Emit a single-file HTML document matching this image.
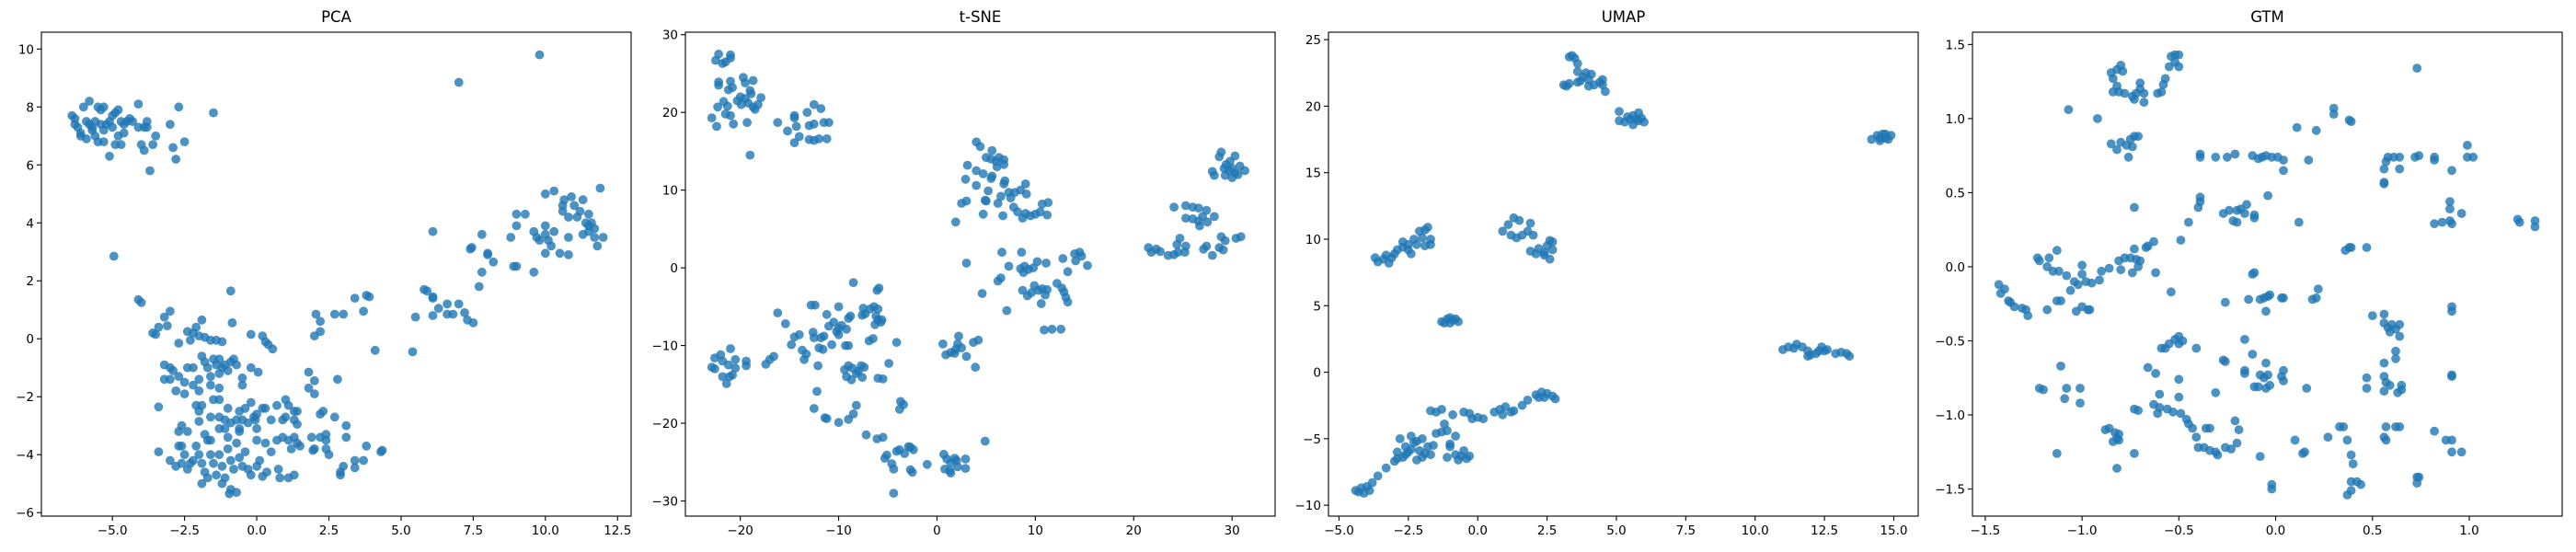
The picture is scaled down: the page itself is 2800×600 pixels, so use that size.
<!DOCTYPE html>
<html><head><meta charset="utf-8"><style>
html,body{margin:0;padding:0;background:#fff;}
svg{display:block;font-family:"DejaVu Sans","Liberation Sans",sans-serif;}
</style></head><body>
<svg id="fig" width="2800" height="600" viewBox="0 0 2800 600" xmlns="http://www.w3.org/2000/svg"></svg>
<script>
const panelTitles=["PCA","t-SNE","UMAP","GTM"];
const pcaXTicks=[-5,-2.5,0,2.5,5,7.5,10,12.5];
const pcaYTicks=[-6,-4,-2,0,2,4,6,8,10];
const tsneXTicks=[-20,-10,0,10,20,30];
const tsneYTicks=[-30,-20,-10,0,10,20,30];
const umapXTicks=[-5,-2.5,0,2.5,5,7.5,10,12.5,15];
const umapYTicks=[-10,-5,0,5,10,15,20,25];
const gtmXTicks=[-1.5,-1,-0.5,0,0.5,1];
const gtmYTicks=[-1.5,-1,-0.5,0,0.5,1,1.5];
const pcaPoints=[[-6.4,7.7],[-6.3,7.6],[-6.2,7.3],[-6.1,7.0],[-6.0,8.0],[-5.8,8.2],[-5.9,7.5],[-5.7,7.3],[-5.6,7.0],[-5.5,8.0],[-5.4,7.9],[-5.3,8.0],[-5.5,6.8],[-5.3,6.8],[-5.2,7.4],[-5.0,7.3],[-5.0,7.7],[-4.9,7.8],[-4.8,7.9],[-4.7,7.5],[-4.6,7.1],[-4.5,7.5],[-4.4,7.6],[-4.3,7.5],[-5.1,6.3],[-4.9,6.7],[-4.7,6.7],[-4.8,7.0],[-6.1,7.1],[-5.9,6.9],[-5.7,7.2],[-5.8,7.4],[-5.4,7.4],[-5.6,7.5],[-6.3,7.4],[-4.1,8.1],[-4.1,7.3],[-3.9,7.3],[-3.8,7.5],[-3.8,7.3],[-4.0,6.7],[-3.9,6.5],[-3.5,7.0],[-3.6,6.7],[-3.7,5.8],[-3.0,7.4],[-2.9,6.6],[-2.5,6.8],[-2.8,6.2],[-2.7,8.0],[-1.5,7.8],[-5.3,7.2],[-5.1,7.5],[-4.6,7.4],
[7.0,8.85],[9.8,9.8],[-4.95,2.85],[-4.1,1.35],[-4.0,1.25],
[10.0,5.0],[10.3,5.1],[10.6,4.6],[10.6,4.4],[10.65,4.8],[10.9,4.9],[11.0,4.6],[11.2,4.4],[11.3,4.8],[11.1,4.2],[10.8,4.2],[11.5,4.3],[11.6,4.0],[11.5,3.7],[11.7,3.8],[11.3,3.6],[11.5,3.9],[11.4,4.0],[11.7,3.5],[11.8,3.2],[11.9,5.2],[12.0,3.5],[10.3,3.7],[10.1,3.4],[10.0,3.9],[9.8,3.4],[9.6,3.7],[9.7,3.5],[10.0,3.6],[10.2,3.2],[10.0,2.95],[10.5,2.95],[10.8,2.9],[10.8,3.5],[9.0,4.3],[9.3,4.3],[9.0,3.9],[8.8,3.5],[8.9,2.5],[9.0,2.5],[9.6,2.3],[7.8,3.6],[7.4,3.1],[7.45,3.15],[8.0,2.95],[8.0,2.9],[8.2,2.65],[7.8,2.3],[7.7,1.8],[6.1,3.7],[5.8,1.7],[5.9,1.65],[6.1,1.45],[6.1,1.4],[7.0,1.2],[6.6,1.2],[6.3,1.05],[6.6,0.85],[6.8,0.85],[7.2,0.9],[7.3,0.65],[7.5,0.55],[6.1,0.8],[5.5,0.75],[5.4,-0.45],[4.1,-0.4],[3.8,1.5],[3.9,1.45],[3.4,1.4],[3.7,0.95],[3.0,0.85],[2.7,0.85],[2.05,0.85],[2.2,0.6],[2.2,0.25],[2.0,0.1],[2.8,-1.4],
[-3.2,0.75],[-3.0,0.95],[-3.1,0.45],[-3.4,0.4],[-3.6,0.2],[-3.5,0.15],[-2.4,0.25],[-2.2,0.2],[-2.1,0.4],[-1.9,0.65],[-2.0,0.1],[-1.8,0.05],[-1.6,-0.05],[-1.4,-0.05],[-1.2,-0.1],[-2.7,-0.15],[-2.3,-0.05],[-0.9,1.65],[-0.85,0.55],[-0.2,0.15],[0.2,0.1],[0.3,-0.1],[0.4,-0.2],[0.55,-0.35],[-0.2,-1.0],[0.05,-1.15],[-0.5,-1.35],[-0.5,-1.6],[1.8,-1.15],[2.0,-1.45],[1.8,-1.7],[2.0,-1.9],
[-3.2,-0.9],[-3.0,-1.0],[-2.9,-1.1],[-3.2,-1.4],[-3.0,-1.4],[-2.7,-1.3],[-2.5,-1.5],[-2.4,-1.0],[-2.2,-1.0],[-2.2,-1.6],[-2.0,-1.4],[-2.0,-1.8],[-1.9,-0.6],[-1.8,-0.8],[-1.7,-1.0],[-1.6,-1.3],[-1.5,-0.7],[-1.4,-0.9],[-1.3,-0.7],[-1.3,-1.2],[-1.2,-1.0],[-1.1,-0.9],[-1.0,-1.1],[-0.9,-0.8],[-0.8,-0.7],[-0.7,-0.9],[-1.3,-1.7],[-1.6,-1.6],[-2.8,-1.8],[-2.5,-1.9],[-1.5,-2.1],[-1.3,-2.1],[-1.0,-2.4],[-0.6,-2.5],[-0.2,-2.2],[0.2,-2.4],[0.3,-2.4],[0.7,-2.3],[1.0,-2.1],[1.1,-2.3],[1.3,-2.5],[1.4,-2.5],[2.2,-2.6],[2.3,-2.5],[2.7,-2.7],[-1.9,-2.3],[-2.1,-2.3],[-2.0,-2.5],[-1.6,-2.7],[-1.3,-2.7],[-1.1,-2.8],[-0.9,-2.9],[-0.7,-2.8],[-0.5,-2.8],[-0.3,-2.9],[-0.1,-2.7],[-0.05,-2.8],[-0.6,-3.1],[-0.6,-3.2],[0.5,-2.8],[0.9,-2.8],[1.0,-2.7],[1.3,-2.8],[1.4,-2.95],[-2.0,-2.85],[-2.6,-3.0],[-2.4,-3.2],[-2.7,-3.2],[-1.8,-3.3],[-1.6,-3.5],[-1.3,-3.1],[-1.0,-3.4],[0.0,-3.5],[0.0,-3.1],[0.3,-3.6],[0.5,-3.9],[0.7,-3.5],[0.9,-3.4],[1.1,-3.5],[1.3,-3.4],[1.4,-3.6],[1.2,-3.8],[1.5,-3.7],[1.9,-3.4],[2.4,-3.3],[2.4,-3.5],[2.2,-3.4],[1.95,-3.85],[2.0,-3.8],[2.4,-3.8],[2.5,-4.0],[3.1,-3.0],[3.1,-3.4],[3.8,-3.7],[4.3,-3.9],[4.35,-3.85],[2.9,-4.6],[2.9,-4.7],[3.0,-4.4],[3.4,-4.2],[3.4,-4.45],[3.7,-4.2],[-3.4,-2.35],[-3.4,-3.9],[-3.0,-4.2],[-2.6,-3.7],[-2.5,-4.0],[-2.6,-4.3],[-2.4,-4.5],[-2.3,-4.3],[-2.1,-3.7],[-2.0,-4.0],[-1.9,-4.3],[-1.8,-4.6],[-1.7,-3.5],[-1.6,-4.0],[-1.5,-4.3],[-1.4,-4.7],[-1.3,-4.0],[-1.2,-4.4],[-1.1,-4.8],[-1.0,-3.8],[-0.9,-4.2],[-0.8,-4.5],[-0.7,-3.6],[-0.6,-4.1],[-0.5,-4.4],[-1.9,-5.0],[-1.7,-4.8],[-1.2,-5.0],[-0.9,-5.2],[-0.95,-5.35],[-0.7,-5.3],[-0.2,-4.7],[0.0,-4.4],[0.2,-4.75],[0.1,-4.2],[0.35,-4.6],[0.75,-4.5],[0.8,-4.8],[1.1,-4.8],[1.3,-4.7],[-0.4,-3.9],[-0.3,-4.5],[-2.2,-4.2],[-2.8,-4.4],[-2.7,-3.7],[-1.1,-3.1],[-0.4,-2.4],[0.0,-2.6]];
const tsnePoints=[[-22.2,27.5],[-22.5,26.7],[-21.5,26.5],[-21.0,27.0],[-21.0,27.4],[-21.8,26.3],[-22.2,23.9],[-22.2,23.5],[-21.0,24.0],[-20.8,23.2],[-21.2,22.9],[-19.7,24.5],[-19.5,23.8],[-18.7,24.1],[-19.0,22.8],[-18.9,22.4],[-19.5,21.8],[-20.0,22.0],[-20.3,21.5],[-19.9,21.0],[-19.2,21.2],[-18.7,20.7],[-18.5,20.4],[-18.2,21.0],[-17.9,21.9],[-21.7,21.4],[-22.3,20.7],[-21.3,20.8],[-21.5,19.8],[-21.0,19.6],[-20.7,18.5],[-22.9,19.3],[-22.4,18.2],[-19.3,18.7],[-19.0,14.5],
[-16.2,18.7],[-15.2,17.6],[-14.5,19.3],[-14.5,19.6],[-14.3,18.2],[-14.0,16.9],[-14.5,16.1],[-13.2,20.0],[-13.0,18.3],[-12.5,18.5],[-12.5,21.0],[-11.8,20.5],[-11.5,18.7],[-11.0,18.7],[-13.0,16.5],[-12.5,16.4],[-12.0,16.6],[-11.2,16.6],
[4.0,16.2],[4.4,15.6],[5.0,14.2],[5.6,15.1],[5.5,14.0],[6.0,13.7],[6.3,14.2],[6.8,13.9],[6.8,13.3],[6.1,13.0],[3.1,13.2],[2.9,11.4],[4.0,12.5],[4.7,12.1],[5.5,11.5],[5.6,11.8],[4.0,10.6],[5.2,9.9],[4.9,8.7],[5.0,8.6],[6.2,8.3],[6.5,9.2],[6.8,10.8],[6.9,11.2],[7.3,9.7],[7.5,9.0],[7.9,9.7],[8.5,10.0],[9.0,10.8],[9.1,9.5],[7.8,7.8],[8.2,7.2],[8.7,6.4],[9.0,7.0],[9.5,6.7],[10.0,6.9],[10.5,7.2],[10.7,8.2],[11.3,8.4],[11.2,6.8],[6.7,6.7],[4.7,6.9],[2.5,8.3],[3.0,8.6],[1.9,5.9],[3.0,0.6],[6.6,2.0],[7.3,0.2],[6.2,-1.7],[6.5,-1.3],[8.6,2.0],[8.5,-0.1],[8.9,0.2],[8.8,-0.6],[9.3,-0.2],[9.8,0.0],[10.2,0.8],[11.1,0.6],[12.8,1.2],[13.3,-0.5],[14.0,1.8],[14.5,2.0],[14.7,1.5],[14.1,0.9],[15.3,0.3],[8.7,-2.9],[9.2,-3.6],[9.6,-3.2],[9.9,-2.3],[10.3,-2.9],[10.7,-2.7],[10.6,-4.6],[11.0,-3.5],[11.2,-2.8],[12.2,-2.0],[12.7,-2.6],[12.9,-3.1],[13.1,-3.8],[13.3,-4.4],[4.6,-3.3],[7.1,-5.5],[10.9,-8.0],[11.7,-7.9],[12.6,-7.9],
[28.9,14.9],[28.7,14.3],[29.4,13.3],[29.8,13.7],[30.3,14.4],[30.8,13.1],[31.3,12.5],[29.3,11.9],[30.0,11.6],[30.3,12.2],[30.6,12.0],[29.7,12.5],[28.0,12.4],[28.2,11.9],[29.2,12.8],[30.0,12.8],
[24.1,7.8],[25.3,8.0],[26.0,7.8],[26.6,7.7],[27.4,7.4],[28.2,6.6],[25.3,6.4],[26.0,6.3],[26.6,6.0],[27.0,6.6],[27.5,5.9],[26.7,5.4],[24.7,3.8],[24.4,3.0],[25.3,2.8],[25.2,2.0],[24.1,1.7],[24.5,2.0],[23.5,1.6],[21.5,2.6],[21.8,2.0],[22.3,2.4],[22.7,2.1],[27.1,2.4],[27.4,2.8],[28.0,1.6],[28.9,4.0],[29.3,3.5],[28.7,2.6],[29.1,2.3],[30.4,3.8],[30.9,4.0],
[-22.6,-11.6],[-22.0,-11.2],[-21.0,-10.4],[-21.8,-12.0],[-21.2,-12.5],[-20.5,-11.8],[-20.5,-12.9],[-22.9,-12.8],[-22.6,-13.0],[-21.8,-14.0],[-21.4,-14.9],[-21.1,-14.0],[-20.8,-13.8],[-19.4,-12.0],[-19.4,-12.6],[-17.4,-12.4],[-17.0,-11.8],[-16.6,-11.4],[-16.2,-5.8],[-15.4,-7.2],[-14.8,-9.9],[-14.5,-8.9],[-14.0,-8.6],[-13.7,-10.6],[-13.5,-11.8],[-13.3,-11.1],[-12.8,-4.8],[-12.4,-4.8],[-12.6,-8.3],[-12.5,-9.0],[-12.0,-10.3],[-11.6,-10.5],[-11.8,-9.0],[-11.5,-8.8],[-11.2,-6.0],[-11.0,-7.5],[-10.5,-7.0],[-10.2,-8.2],[-10.0,-7.8],[-9.7,-7.4],[-9.2,-7.9],[-9.0,-6.5],[-8.8,-6.2],[-10.0,-5.0],[-10.7,-9.9],[-10.0,-8.6],[-9.3,-10.0],[-9.0,-10.0],[-8.5,-1.9],[-7.5,-5.2],[-7.6,-6.1],[-7.3,-5.9],[-6.8,-5.3],[-6.4,-5.0],[-6.0,-5.3],[-6.2,-6.2],[-6.0,-6.7],[-5.6,-6.7],[-5.7,-7.0],[-6.3,-7.3],[-6.1,-2.9],[-5.9,-2.6],[-6.5,-9.1],[-6.9,-9.4],[-4.1,-9.6],[-12.1,-12.6],[-9.4,-13.1],[-9.0,-12.6],[-8.6,-12.9],[-8.2,-13.6],[-7.7,-12.6],[-7.4,-12.8],[-9.2,-14.0],[-8.7,-14.4],[-7.6,-14.1],[-8.0,-13.3],[-6.0,-14.2],[-5.5,-14.3],[-4.9,-12.3],[-12.2,-15.9],[-12.5,-18.1],[-11.4,-19.3],[-11.2,-19.4],[-10.0,-19.9],[-9.0,-19.5],[-8.5,-18.8],[-8.2,-17.7],[-7.2,-21.5],[-6.1,-22.0],[-5.5,-21.8],[-3.7,-17.2],[-3.8,-18.2],[-3.4,-17.6],[-5.1,-24.1],[-5.3,-24.5],[-4.6,-25.2],[-4.4,-25.9],[-4.1,-23.6],[-3.8,-23.4],[-3.3,-23.9],[-2.9,-23.0],[-2.7,-23.1],[-2.4,-23.4],[-2.7,-26.0],[-2.5,-26.3],[-1.0,-25.3],[-4.4,-29.0],[0.7,-24.0],[1.0,-24.6],[0.8,-25.9],[1.3,-26.1],[1.4,-25.1],[1.8,-24.5],[2.1,-25.6],[2.0,-24.8],[2.9,-24.6],[2.9,-25.8],[1.4,-26.4],[4.9,-22.3],[0.6,-9.8],[0.9,-11.2],[1.4,-10.9],[1.9,-10.5],[2.1,-9.8],[2.2,-8.8],[2.5,-10.3],[3.0,-11.4],[3.7,-9.6],[4.2,-9.3],[3.9,-12.8],[1.8,-11.0]];
const umapPoints=[[3.3,23.7],[3.5,23.6],[3.4,23.8],[3.6,23.2],[3.6,22.6],[3.8,22.2],[3.7,21.9],[3.9,22.5],[4.0,22.0],[4.1,22.4],[4.2,21.6],[4.4,21.8],[4.5,21.6],[4.5,22.0],[4.6,21.1],[3.1,21.6],[3.2,21.5],[3.3,21.7],[3.6,21.8],[4.0,21.5],
[5.1,19.6],[5.1,18.9],[5.3,18.8],[5.5,19.0],[5.6,19.3],[5.6,18.6],[5.8,19.5],[5.8,18.9],[6.0,18.8],[5.9,19.1],[5.7,19.0],[5.4,19.2],
[14.2,17.5],[14.4,17.8],[14.5,17.4],[14.6,17.9],[14.7,17.6],[14.8,17.5],[14.9,17.8],[14.5,17.6],[14.7,17.9],
[11.0,1.7],[11.2,1.9],[11.4,1.8],[11.5,2.1],[11.7,1.9],[11.9,1.6],[12.0,1.3],[12.2,1.4],[12.3,1.6],[12.4,1.9],[12.6,1.7],[12.9,1.4],[13.1,1.5],[13.3,1.4],[13.4,1.2],[11.9,1.2],[12.5,1.6],
[-1.3,3.8],[-1.2,3.7],[-1.1,4.0],[-1.0,4.1],[-0.9,3.9],[-0.8,4.0],[-0.7,3.8],[-1.0,3.7],
[-3.7,8.6],[-3.6,8.3],[-3.4,8.5],[-3.3,8.8],[-3.2,8.2],[-3.1,8.6],[-3.0,8.9],[-2.9,9.2],[-2.7,9.4],[-2.7,9.8],[-2.5,9.6],[-2.5,9.2],[-2.4,8.9],[-2.3,10.0],[-2.2,9.6],[-2.1,10.6],[-2.0,10.1],[-1.9,10.7],[-1.8,10.9],[-1.7,10.0],[-1.7,9.6],[-1.9,9.5],
[0.9,10.6],[1.1,11.1],[1.3,11.6],[1.5,11.4],[1.2,10.3],[1.4,10.1],[1.6,10.3],[1.8,10.6],[1.9,11.2],[2.0,10.3],[1.9,9.1],[2.1,8.9],[2.2,9.3],[2.4,9.0],[2.5,9.5],[2.6,9.9],[2.7,9.2],[2.6,8.5],[2.4,8.8],[2.7,9.8],
[-4.4,-8.9],[-4.3,-9.0],[-4.2,-8.7],[-4.1,-9.1],[-4.0,-8.6],[-3.9,-8.9],[-3.8,-8.3],[-3.6,-7.8],[-3.3,-7.2],[-3.0,-6.7],[-2.9,-6.0],[-2.8,-5.0],[-2.7,-6.4],[-2.6,-5.6],[-2.5,-6.0],[-2.4,-4.8],[-2.3,-5.3],[-2.2,-6.6],[-2.1,-5.9],[-2.0,-5.0],[-1.9,-6.1],[-2.0,-6.4],[-1.8,-5.6],[-1.7,-6.2],[-1.6,-5.5],[-1.7,-2.9],[-1.5,-3.0],[-1.3,-2.8],[-1.5,-4.6],[-1.3,-4.5],[-1.2,-3.9],[-1.1,-4.4],[-1.1,-6.4],[-1.0,-5.4],[-1.0,-5.6],[-0.9,-3.2],[-0.8,-4.8],[-0.8,-6.2],[-0.7,-6.6],[-0.6,-6.3],[-0.5,-5.9],[-0.4,-6.5],[-0.3,-6.3],[-0.5,-3.0],[-0.3,-3.1],[-0.2,-3.5],[0.0,-3.4],[0.2,-3.5],[0.6,-3.0],[0.8,-2.8],[0.9,-3.2],[1.0,-2.6],[1.2,-3.0],[1.3,-2.9],[1.6,-2.5],[1.8,-2.1],[2.1,-1.7],[2.3,-1.5],[2.4,-1.9],[2.5,-1.6],[2.7,-1.8],[2.8,-2.0],[2.2,-1.9],[-2.6,-6.2],[-2.4,-5.8],[-2.2,-5.2],[-2.9,-6.5]];
const gtmPoints=[[-0.85,1.31],[-0.82,1.33],[-0.80,1.36],[-0.79,1.32],[-0.84,1.27],[-0.82,1.22],[-0.84,1.18],[-0.81,1.18],[-0.78,1.17],[-0.74,1.15],[-0.73,1.13],[-0.72,1.17],[-0.70,1.20],[-0.70,1.24],[-0.68,1.17],[-0.68,1.11],[-0.61,1.17],[-0.59,1.18],[-0.58,1.23],[-0.57,1.27],[-0.55,1.35],[-0.54,1.42],[-0.52,1.43],[-0.50,1.43],[-0.50,1.35],[-0.52,1.38],[-1.07,1.06],[-0.92,1.0],[0.73,1.34],
[-0.85,0.83],[-0.82,0.79],[-0.80,0.84],[-0.77,0.82],[-0.75,0.86],[-0.73,0.88],[-0.74,0.81],[-0.76,0.74],[-0.71,0.88],[-0.39,0.76],[-0.39,0.74],[-0.31,0.74],[-0.25,0.74],[-0.21,0.76],[-0.12,0.75],[-0.09,0.73],[-0.07,0.74],[-0.05,0.75],[-0.02,0.74],[0.01,0.74],[0.04,0.72],[0.04,0.65],[0.17,0.72],[0.11,0.94],[0.21,0.92],[0.30,1.03],[0.30,1.07],[0.38,0.99],[0.39,0.98],[0.56,0.66],[0.57,0.71],[0.58,0.74],[0.61,0.74],[0.64,0.74],[0.64,0.66],[0.56,0.56],[0.56,0.57],[0.72,0.74],[0.74,0.75],[0.82,0.74],[0.82,0.72],[0.91,0.65],[0.99,0.82],[0.99,0.74],[1.02,0.74],
[-0.73,0.40],[-0.39,0.47],[-0.39,0.44],[-0.40,0.40],[-0.45,0.30],[-0.27,0.36],[-0.24,0.38],[-0.22,0.31],[-0.20,0.38],[-0.18,0.39],[-0.15,0.42],[-0.16,0.36],[-0.11,0.35],[-0.11,0.33],[-0.20,0.30],[-0.04,0.48],[0.12,0.30],[0.36,0.11],[0.38,0.13],[0.39,0.13],[0.47,0.13],[0.82,0.29],[0.86,0.30],[0.90,0.31],[0.91,0.29],[0.90,0.44],[0.90,0.39],[0.96,0.36],[1.25,0.32],[1.26,0.30],[1.34,0.31],[1.34,0.27],
[-0.49,0.18],[-0.63,0.17],[-0.66,0.14],[-0.67,0.13],[-0.73,0.12],[-0.81,0.04],[-0.78,0.06],[-0.75,0.06],[-0.72,0.05],[-0.70,0.04],[-0.71,0.0],[-0.74,-0.04],[-0.80,-0.02],[-0.86,-0.01],[-0.90,-0.03],[-0.91,-0.09],[-0.95,-0.11],[-0.98,-0.10],[-1.00,0.01],[-1.00,-0.05],[-1.02,-0.12],[-1.04,-0.10],[-1.06,-0.16],[-1.08,-0.06],[-1.12,-0.03],[-1.13,0.11],[-1.15,-0.03],[-1.17,0.06],[-1.18,0.0],[-1.22,0.04],[-1.23,0.06],[-0.62,-0.04],[-1.43,-0.12],[-1.42,-0.18],[-1.40,-0.15],[-1.38,-0.23],[-1.37,-0.24],[-1.35,-0.27],[-1.31,-0.28],[-1.29,-0.29],[-1.28,-0.33],[-1.18,-0.29],[-1.13,-0.23],[-1.11,-0.23],[-1.03,-0.30],[-1.00,-0.27],[-0.97,-0.29],[-0.96,-0.29],[-0.54,-0.17],[-0.26,-0.24],[-0.14,-0.22],[-0.12,-0.05],[-0.11,-0.04],[-0.08,-0.22],[-0.06,-0.21],[-0.04,-0.20],[-0.03,-0.19],[0.03,-0.21],[0.04,-0.21],[-0.05,-0.30],[0.19,-0.22],[0.21,-0.21],[0.22,-0.15],[0.50,-0.33],[0.56,-0.32],[0.56,-0.38],[0.58,-0.41],[0.60,-0.39],[0.62,-0.42],[0.64,-0.39],[0.64,-0.47],[0.59,-0.44],[0.91,-0.27],[0.91,-0.30],
[-0.50,-0.47],[-0.52,-0.49],[-0.48,-0.50],[-0.50,-0.52],[-0.55,-0.52],[-0.57,-0.55],[-0.59,-0.55],[-0.41,-0.55],[-0.16,-0.49],[-0.12,-0.59],[-0.05,-0.65],[-0.26,-0.64],[-0.27,-0.63],[-0.66,-0.68],[-0.62,-0.72],[-1.11,-0.67],[-0.50,-0.76],[-0.16,-0.70],[-0.16,-0.72],[-0.08,-0.73],[-0.06,-0.75],[-0.04,-0.73],[0.03,-0.74],[0.04,-0.70],[0.04,-0.77],[-0.11,-0.81],[-0.09,-0.81],[-0.05,-0.82],[-0.03,-0.80],[0.16,-0.82],[-0.31,-0.85],[-0.60,-0.86],[-0.50,-0.88],[0.47,-0.75],[0.47,-0.82],[0.56,-0.65],[0.56,-0.74],[0.57,-0.78],[0.56,-0.84],[0.59,-0.80],[0.62,-0.57],[0.62,-0.62],[0.63,-0.85],[0.65,-0.80],[0.65,-0.83],[0.91,-0.74],[0.91,-0.73],
[-1.22,-0.82],[-1.20,-0.83],[-1.08,-0.82],[-1.01,-0.82],[-1.09,-0.89],[-1.01,-0.92],[-0.73,-0.96],[-0.71,-0.97],[-0.63,-0.93],[-0.60,-0.95],[-0.61,-0.99],[-0.56,-0.96],[-0.53,-0.98],[-0.49,-0.99],[-0.46,-1.03],[-0.45,-1.06],[-0.43,-1.09],[-0.41,-1.15],[-0.40,-1.22],[-0.37,-1.22],[-0.34,-1.24],[-0.31,-1.25],[-0.30,-1.27],[-0.26,-1.22],[-0.23,-1.23],[-0.20,-1.19],[-0.36,-1.09],[-0.34,-1.09],[-0.21,-1.04],[-0.19,-1.10],[-0.08,-1.28],[-0.88,-1.10],[-0.86,-1.09],[-0.83,-1.12],[-0.81,-1.13],[-0.82,-1.16],[-0.84,-1.18],[-0.81,-1.17],[-1.13,-1.26],[-0.73,-1.26],[-0.82,-1.36],[0.10,-1.17],[0.14,-1.26],[0.15,-1.25],[0.27,-1.15],[0.33,-1.08],[0.35,-1.08],[0.37,-1.17],[0.39,-1.27],[0.40,-1.33],[0.39,-1.45],[0.42,-1.45],[0.44,-1.47],[0.39,-1.51],[0.37,-1.54],[-0.02,-1.47],[-0.02,-1.50],[0.57,-1.08],[0.56,-1.15],[0.57,-1.17],[0.62,-1.08],[0.64,-1.08],[0.82,-1.11],[0.88,-1.17],[0.91,-1.17],[0.91,-1.25],[0.96,-1.25],[0.73,-1.42],[0.74,-1.42],[0.73,-1.46]];

const NS="http://www.w3.org/2000/svg";
const svg=document.getElementById('fig');
function mk(tag,attrs,parent){const e=document.createElementNS(NS,tag);for(const k in attrs)e.setAttribute(k,attrs[k]);(parent||svg).appendChild(e);return e;}
function fmt(v,dec){const s=v.toFixed(dec);return s.replace('-','\u2212');}
const TOP=35,BOT=561;
const panels=[
 {key:'pca',title:panelTitles[0],L:45,R:686,xd:[-7.46,12.97],yd:[-6.12,10.58],xt:pcaXTicks,yt:pcaYTicks,xdec:1,ydec:0,pts:pcaPoints},
 {key:'tsne',title:panelTitles[1],L:745,R:1386,xd:[-25.58,34.38],yd:[-31.95,30.32],xt:tsneXTicks,yt:tsneYTicks,xdec:0,ydec:0,pts:tsnePoints},
 {key:'umap',title:panelTitles[2],L:1444,R:2085,xd:[-5.38,15.88],yd:[-10.82,25.56],xt:umapXTicks,yt:umapYTicks,xdec:1,ydec:0,pts:umapPoints},
 {key:'gtm',title:panelTitles[3],L:2144,R:2785,xd:[-1.566,1.48],yd:[-1.683,1.583],xt:gtmXTicks,yt:gtmYTicks,xdec:1,ydec:1,pts:gtmPoints}
];
panels.forEach(p=>{
 const sx=v=>p.L+(v-p.xd[0])/(p.xd[1]-p.xd[0])*(p.R-p.L);
 const sy=v=>BOT-(v-p.yd[0])/(p.yd[1]-p.yd[0])*(BOT-TOP);
 const g=mk('g',{});
 
 
 const t=mk('text',{x:(p.L+p.R)/2,y:24,'text-anchor':'middle','font-size':'16.5',fill:'#000'},g);
 t.textContent=p.title;
 
 
 const cg=mk('g',{},g);
 
 
 p.pts.forEach(d=>{
  const c=mk('circle',{cx:sx(d[0]).toFixed(1),cy:sy(d[1]).toFixed(1),r:4.9,fill:'#1f77b4','fill-opacity':0.8},cg);
  
  
 });
 const fr=mk('rect',{x:p.L,y:TOP,width:p.R-p.L,height:BOT-TOP,fill:'none',stroke:'#000','stroke-width':1.1},g);
 
 
 p.xt.forEach(v=>{
  const x=sx(v);
  mk('line',{x1:x,x2:x,y1:BOT,y2:BOT+5,stroke:'#000','stroke-width':1.1},g);
  const l=mk('text',{x:x,y:BOT+20,'text-anchor':'middle','font-size':'13.5',fill:'#000'},g);
  l.textContent=fmt(v,p.xdec);
  
  
 });
 p.yt.forEach(v=>{
  const y=sy(v);
  mk('line',{x1:p.L-5,x2:p.L,y1:y,y2:y,stroke:'#000','stroke-width':1.1},g);
  const l=mk('text',{x:p.L-8,y:y+5,'text-anchor':'end','font-size':'13.5',fill:'#000'},g);
  l.textContent=fmt(v,p.ydec);
  
  
 });
});
</script>
</body></html>
